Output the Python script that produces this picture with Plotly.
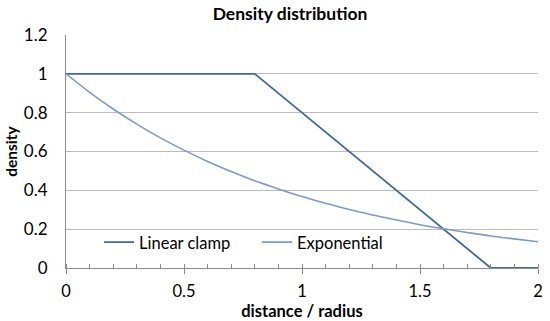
import plotly.graph_objects as go

# Data
linear_x = [0, 0.8, 1.8, 2.0]
linear_y = [1.0, 1.0, 0.0, 0.0]

exp_x = [0.0, 0.1, 0.2, 0.3, 0.4, 0.5, 0.6, 0.7, 0.8, 0.9, 1.0,
         1.1, 1.2, 1.3, 1.4, 1.5, 1.6, 1.7, 1.8, 1.9, 2.0]
exp_y = [1.0, 0.905, 0.819, 0.741, 0.670, 0.607, 0.549, 0.497, 0.449, 0.407, 0.368,
         0.333, 0.301, 0.273, 0.247, 0.223, 0.202, 0.183, 0.165, 0.150, 0.135]

x_ticks = [0, 0.5, 1, 1.5, 2]
x_tick_labels = ["0", "0.5", "1", "1.5", "2"]
y_ticks = [0, 0.2, 0.4, 0.6, 0.8, 1.0, 1.2]
y_tick_labels = ["0", "0.2", "0.4", "0.6", "0.8", "1", "1.2"]

FONT = "Lato, Carlito, 'Open Sans', sans-serif"
C_LIN = "#41699b"
C_EXP = "#7b9bc9"
GRID = "#bdbdbd"
FS = 17

fig = go.Figure()
fig.add_trace(go.Scatter(x=linear_x, y=linear_y, mode="lines", name="Linear clamp",
                         line=dict(color=C_LIN, width=1.8)))
fig.add_trace(go.Scatter(x=exp_x, y=exp_y, mode="lines", name="Exponential",
                         line=dict(color=C_EXP, width=1.6, shape="spline")))

fig.update_layout(
    width=550, height=321,
    margin=dict(l=66, r=12, t=35, b=53),
    paper_bgcolor="white", plot_bgcolor="white",
    font=dict(family=FONT, size=FS, color="black"),
    title=dict(text="<b>Density distribution</b>", x=290 / 550, xref="container", xanchor="center",
               y=1 - 14 / 321, yanchor="middle", font=dict(size=17.5, family=FONT)),
    showlegend=True,
    legend=dict(orientation="h", x=0.07, xanchor="left", y=0.11, yanchor="middle",
                bgcolor="rgba(0,0,0,0)", font=dict(size=16.5, family=FONT),
                itemwidth=30, entrywidth=113, entrywidthmode="pixels",
                tracegroupgap=0),
)

fig.update_xaxes(
    range=[0, 2], tickvals=x_ticks, ticktext=x_tick_labels,
    showgrid=False, zeroline=False, automargin=False,
    showline=True, linecolor="#8c8c8c", linewidth=1,
    ticks="outside", ticklen=5, tickcolor="#8c8c8c", tickwidth=1, ticklabelstandoff=3,
    minor=dict(dtick=0.1, ticks="inside", ticklen=4, tickcolor="#8c8c8c", tickwidth=1, showgrid=False),
    tickfont=dict(size=16.5, family=FONT),
    title=dict(text="<b>distance / radius</b>", font=dict(size=16.5, family=FONT), standoff=2),
)
fig.update_yaxes(
    range=[0, 1.2], tickvals=y_ticks, ticktext=y_tick_labels,
    showgrid=True, gridcolor=GRID, gridwidth=1, zeroline=False, automargin=False,
    showline=True, linecolor="#8c8c8c", linewidth=1,
    ticks="", ticklen=0, ticklabelstandoff=14,
    tickfont=dict(size=FS, family=FONT),
    title=dict(text="<b>density</b>", font=dict(size=15.5, family=FONT), standoff=2),
)

fig.write_html("out.html", config={"displayModeBar": False},
               post_script="document.body.style.margin='0';document.body.style.padding='0';")
